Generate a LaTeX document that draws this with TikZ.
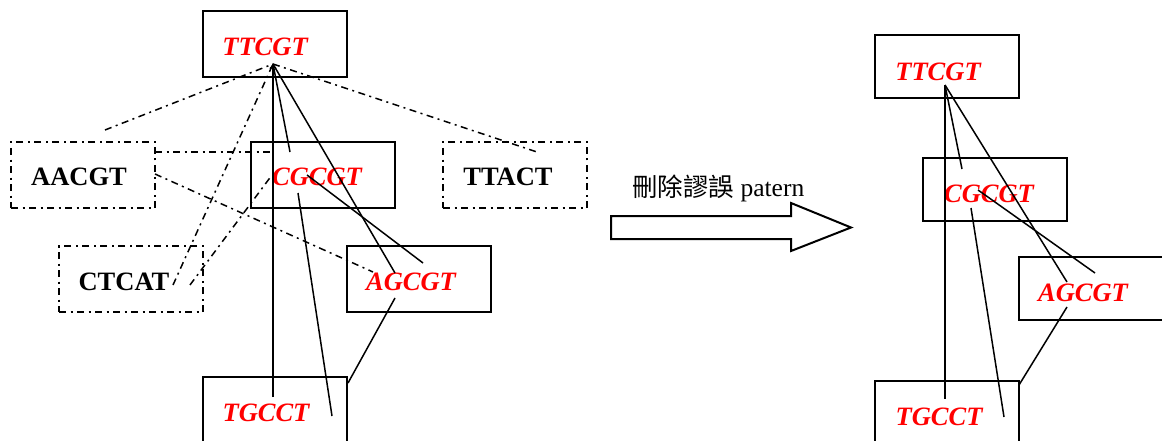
\documentclass[tikz,border=0pt]{standalone}
\usepackage{fontspec}
\setmainfont{Liberation Serif}
\newfontfamily\cjkfont{Noto Sans CJK TC}
\usetikzlibrary{arrows.meta}

\begin{document}
\begin{tikzpicture}[x=1pt,y=-1pt,
  dashdot/.style={dash pattern=on 7pt off 4.5pt on 2pt off 4.5pt},
  box/.style={draw, line width=2pt, minimum width=144pt, minimum height=66pt, inner sep=0pt},
  rbox/.style={box, minimum height=63pt},
  dbox/.style={box, dashdot, line width=1.7pt},
  seq/.style={inner sep=0pt, font=\fontsize{26.5}{30}\selectfont\bfseries\itshape, text=red},
  bseq/.style={inner sep=0pt, font=\fontsize{26.5}{30}\selectfont\bfseries},
  link/.style={line width=1.5pt},
  dlink/.style={line width=1.5pt, dashdot},
  blockarrow/.style={draw, line width=2pt, fill=white, line join=miter},
]
\useasboundingbox (0,0) rectangle (1162,441);
\clip (0,0) rectangle (1162,441);

% ---------- left graph: boxes ----------
\node[box]  (bT)  at (275,44.5) {};
\node[dbox] (bA)  at (83,175)   {};
\node[box]  (bC)  at (323,175)  {};
\node[dbox] (bTA) at (515,175)  {};
\node[dbox] (bCT) at (131,279)  {};
\node[box]  (bAG) at (419,279)  {};
\node[box]  (bTG) at (275,410)  {};

% ---------- left graph: labels ----------
\node[seq]  (tT)  at (265,47)  {TTCGT};
\node[bseq] (tA)  at (79,177)  {AACGT};
\node[seq]  (tC)  at (317,177) {CGCGT};
\node[bseq] (tTA) at (508,177) {TTACT};
\node[bseq] (tCT) at (124,282) {CTCAT};
\node[seq]  (tAG) at (411,282) {AGCGT};
\node[seq]  (tTG) at (266,413) {TGCCT};

% ---------- left graph: connector end points ----------
\coordinate (hubL)   at (273,64);
\coordinate (tgUp)   at (273,397);
\coordinate (cgTop)  at (290,152);
\coordinate (cgMid)  at (307,175);
\coordinate (agTop)  at (423,263);
\coordinate (agLeft) at (395,273);
\coordinate (cgLow)  at (298,193);
\coordinate (tgIn)   at (332,416);
\coordinate (agLow)  at (395,298);
\coordinate (tgCor)  at (348,383);
\coordinate (aTop)   at (105,130);
\coordinate (taTop)  at (537,152);
\coordinate (aR1)    at (155,152);
\coordinate (vx)     at (273,152);
\coordinate (aR2)    at (155,174);
\coordinate (agTxt)  at (373,272);
\coordinate (ctA)    at (173,285);
\coordinate (ctB)    at (190,285);
\coordinate (cgTxt)  at (272,175);

% dash-dot connectors
\draw[dlink] (aTop) -- (hubL);
\draw[dlink] (hubL) -- (taTop);
\draw[dlink] (aR1) -- (vx);
\draw[dlink] (aR2) -- (agTxt);
\draw[dlink] (ctA) -- (hubL);
\draw[dlink] (ctB) -- (cgTxt);

% solid connectors
\draw[link,-{To[length=5pt,width=7pt]}] (tgUp) -- (hubL);
\draw[link] (cgTop) -- (hubL);
\draw[link] (hubL) -- (agLeft);
\draw[link] (cgMid) -- (agTop);
\draw[link] (cgLow) -- (tgIn);
\draw[link] (agLow) -- (tgCor);

% ---------- transition arrow ----------
\draw[blockarrow] (611,216) -- (791,216) -- (791,203) -- (851,227.5)
  -- (791,251) -- (791,239) -- (611,239) -- cycle;
\node[anchor=base west, inner sep=0pt, font=\fontsize{25.5}{29}\selectfont]
  (lbl) at (632,196) {{\cjkfont 刪除謬誤} patern};

% ---------- right graph: boxes ----------
\node[rbox] (rT)  at (947,66.5)  {};
\node[rbox] (rC)  at (995,189.5) {};
\node[rbox] (rAG) at (1091,288.5) {};
\node[rbox] (rTG) at (947,412.5) {};

% ---------- right graph: labels ----------
\node[seq] (sT)  at (938,72)  {TTCGT};
\node[seq] (sC)  at (989,194) {CGCGT};
\node[seq] (sAG) at (1083,293) {AGCGT};
\node[seq] (sTG) at (939,417) {TGCCT};

% ---------- right graph: connectors ----------
\coordinate (hubR)   at (945,85);
\coordinate (rtgUp)  at (945,399);
\coordinate (rcTop)  at (962,169);
\coordinate (ragA)   at (1067,282);
\coordinate (rcMid)  at (978,190);
\coordinate (ragB)   at (1095,273);
\coordinate (rcLow)  at (971,208);
\coordinate (rtgIn)  at (1004,417);
\coordinate (ragLow) at (1067,307);
\coordinate (rtgCor) at (1019,385);

\draw[link] (hubR) -- (rtgUp);
\draw[link] (hubR) -- (rcTop);
\draw[link] (hubR) -- (ragA);
\draw[link] (rcMid) -- (ragB);
\draw[link] (rcLow) -- (rtgIn);
\draw[link] (ragLow) -- (rtgCor);
\end{tikzpicture}
\end{document}
